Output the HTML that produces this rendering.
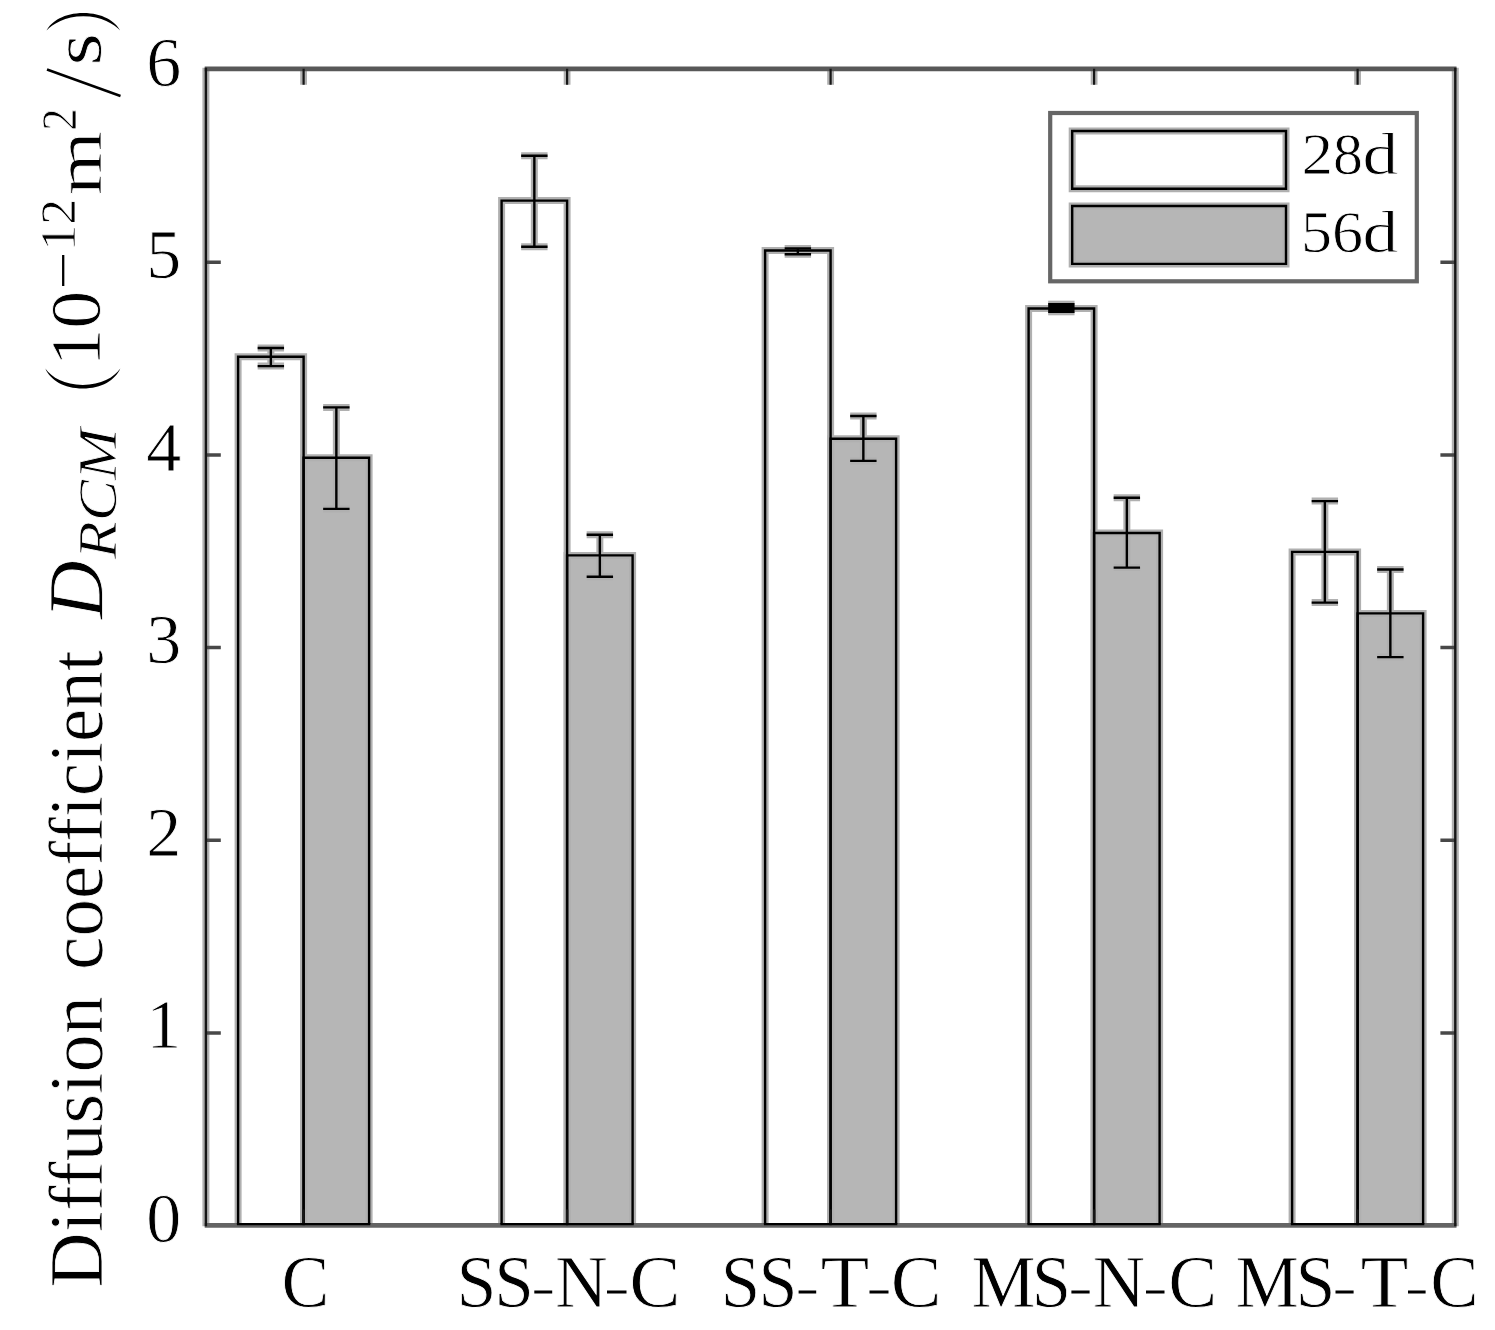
<!DOCTYPE html><html><head><meta charset="utf-8"><style>html,body{margin:0;padding:0;background:#fff;}svg{display:block;}text{stroke:#fff;stroke-width:0.8px;}</style></head><body>
<svg width="1495" height="1330" viewBox="0 0 1495 1330">
<rect x="0" y="0" width="1495" height="1330" fill="#fff"/>
<rect x="238.1" y="356.8" width="65.5" height="868.8" fill="#fff"/>
<rect x="303.6" y="457.8" width="65.5" height="767.8" fill="#b6b6b6"/>
<rect x="501.6" y="200.6" width="65.5" height="1025" fill="#fff"/>
<rect x="567.1" y="555.4" width="65.5" height="670.2" fill="#b6b6b6"/>
<rect x="765.1" y="250.5" width="65.5" height="975.1" fill="#fff"/>
<rect x="830.6" y="438.8" width="65.5" height="786.8" fill="#b6b6b6"/>
<rect x="1028.6" y="308.5" width="65.5" height="917.1" fill="#fff"/>
<rect x="1094.1" y="533" width="65.5" height="692.6" fill="#b6b6b6"/>
<rect x="1292.1" y="551.9" width="65.5" height="673.7" fill="#fff"/>
<rect x="1357.6" y="613.4" width="65.5" height="612.2" fill="#b6b6b6"/>
<g style="mix-blend-mode:darken" fill="none" stroke="#b0b0b0" stroke-linejoin="miter">
<path d="M238.1 1224.1V356.8H303.6V1224.1" stroke-width="7"/>
<path d="M303.6 1224.1V457.8H369.1V1224.1" stroke-width="7"/>
<path d="M501.6 1224.1V200.6H567.1V1224.1" stroke-width="7"/>
<path d="M567.1 1224.1V555.4H632.6V1224.1" stroke-width="7"/>
<path d="M765.1 1224.1V250.5H830.6V1224.1" stroke-width="7"/>
<path d="M830.6 1224.1V438.8H896.1V1224.1" stroke-width="7"/>
<path d="M1028.6 1224.1V308.5H1094.1V1224.1" stroke-width="7"/>
<path d="M1094.1 1224.1V533H1159.6V1224.1" stroke-width="7"/>
<path d="M1292.1 1224.1V551.9H1357.6V1224.1" stroke-width="7"/>
<path d="M1357.6 1224.1V613.4H1423.1V1224.1" stroke-width="7"/>
<path d="M270.85 348V366.1M257.65 348H284.05M257.65 366.1H284.05" stroke-width="7"/>
<path d="M336.35 407.4V508.9M323.15 407.4H349.55M323.15 508.9H349.55" stroke-width="7"/>
<path d="M534.35 155.8V246.8M521.15 155.8H547.55M521.15 246.8H547.55" stroke-width="7"/>
<path d="M599.85 534.8V576.8M586.65 534.8H613.05M586.65 576.8H613.05" stroke-width="7"/>
<path d="M797.85 248.4V254.2M784.65 248.4H811.05M784.65 254.2H811.05" stroke-width="7"/>
<path d="M863.35 416.05V460.9M850.15 416.05H876.55M850.15 460.9H876.55" stroke-width="7"/>
<path d="M1048.15 308H1074.55" stroke-width="14.6"/>
<path d="M1126.85 497.7V567.6M1113.65 497.7H1140.05M1113.65 567.6H1140.05" stroke-width="7"/>
<path d="M1324.85 501.1V602.6M1311.65 501.1H1338.05M1311.65 602.6H1338.05" stroke-width="7"/>
<path d="M1390.35 569.5V657.1M1377.15 569.5H1403.55M1377.15 657.1H1403.55" stroke-width="7"/>
<path d="M205.9 67.8V1226.35M1455.3 67.8V1226.35" stroke-width="7"/>
<path d="M303.6 68.8V84.7M303.6 1225.35V1209.45M567.1 68.8V84.7M567.1 1225.35V1209.45M830.6 68.8V84.7M830.6 1225.35V1209.45M1094.1 68.8V84.7M1094.1 1225.35V1209.45M1357.6 68.8V84.7M1357.6 1225.35V1209.45" stroke-width="6.8"/>
</g>
<path d="M204.7 68.8H1456.5" stroke="#585858" stroke-width="4.7" fill="none"/>
<path d="M204.7 1225.35H1456.5" stroke="#646464" stroke-width="4.9" fill="none"/>
<path d="M205.9 1032.92H220.8M1455.3 1032.92H1440.4M205.9 840.24H220.8M1455.3 840.24H1440.4M205.9 647.56H220.8M1455.3 647.56H1440.4M205.9 454.88H220.8M1455.3 454.88H1440.4M205.9 262.2H220.8M1455.3 262.2H1440.4" stroke="#484848" stroke-width="3.5" fill="none"/>
<g fill="none" stroke-linejoin="miter">
<path d="M238.1 1224.1V356.8H303.6V1224.1" stroke="#000" stroke-width="2.4"/>
<path d="M303.6 1224.1V457.8H369.1V1224.1" stroke="#000" stroke-width="2.4"/>
<path d="M501.6 1224.1V200.6H567.1V1224.1" stroke="#000" stroke-width="2.4"/>
<path d="M567.1 1224.1V555.4H632.6V1224.1" stroke="#000" stroke-width="2.4"/>
<path d="M765.1 1224.1V250.5H830.6V1224.1" stroke="#000" stroke-width="2.4"/>
<path d="M830.6 1224.1V438.8H896.1V1224.1" stroke="#000" stroke-width="2.4"/>
<path d="M1028.6 1224.1V308.5H1094.1V1224.1" stroke="#000" stroke-width="2.4"/>
<path d="M1094.1 1224.1V533H1159.6V1224.1" stroke="#000" stroke-width="2.4"/>
<path d="M1292.1 1224.1V551.9H1357.6V1224.1" stroke="#000" stroke-width="2.4"/>
<path d="M1357.6 1224.1V613.4H1423.1V1224.1" stroke="#000" stroke-width="2.4"/>
<path d="M270.85 348V366.1M257.65 348H284.05M257.65 366.1H284.05" stroke="#000" stroke-width="2.4"/>
<path d="M336.35 407.4V508.9M323.15 407.4H349.55M323.15 508.9H349.55" stroke="#000" stroke-width="2.4"/>
<path d="M534.35 155.8V246.8M521.15 155.8H547.55M521.15 246.8H547.55" stroke="#000" stroke-width="2.4"/>
<path d="M599.85 534.8V576.8M586.65 534.8H613.05M586.65 576.8H613.05" stroke="#000" stroke-width="2.4"/>
<path d="M797.85 248.4V254.2M784.65 248.4H811.05M784.65 254.2H811.05" stroke="#000" stroke-width="2.4"/>
<path d="M863.35 416.05V460.9M850.15 416.05H876.55M850.15 460.9H876.55" stroke="#000" stroke-width="2.4"/>
<path d="M1048.15 308H1074.55" stroke="#000" stroke-width="10"/>
<path d="M1126.85 497.7V567.6M1113.65 497.7H1140.05M1113.65 567.6H1140.05" stroke="#000" stroke-width="2.4"/>
<path d="M1324.85 501.1V602.6M1311.65 501.1H1338.05M1311.65 602.6H1338.05" stroke="#000" stroke-width="2.4"/>
<path d="M1390.35 569.5V657.1M1377.15 569.5H1403.55M1377.15 657.1H1403.55" stroke="#000" stroke-width="2.4"/>
<path d="M205.9 67.8V1226.35M1455.3 67.8V1226.35" stroke="#161616" stroke-width="2.4"/>
<path d="M303.6 68.8V84.7M303.6 1225.35V1209.45M567.1 68.8V84.7M567.1 1225.35V1209.45M830.6 68.8V84.7M830.6 1225.35V1209.45M1094.1 68.8V84.7M1094.1 1225.35V1209.45M1357.6 68.8V84.7M1357.6 1225.35V1209.45" stroke="#161616" stroke-width="2.2"/>
</g>
<path d="M236.9 1224.1H304.8M302.4 1224.1H370.3M500.4 1224.1H568.3M565.9 1224.1H633.8M763.9 1224.1H831.8M829.4 1224.1H897.3M1027.4 1224.1H1095.3M1092.9 1224.1H1160.8M1290.9 1224.1H1358.8M1356.4 1224.1H1424.3" stroke="#000" stroke-width="2.4" fill="none"/>
<text x="181.2" y="1242" font-family='"Liberation Serif", serif' font-size="70" text-anchor="end" fill="#000">0</text>
<text x="181.2" y="1047.7" font-family='"Liberation Serif", serif' font-size="70" text-anchor="end" fill="#000">1</text>
<text x="181.2" y="855.8" font-family='"Liberation Serif", serif' font-size="70" text-anchor="end" fill="#000">2</text>
<text x="181.2" y="663.2" font-family='"Liberation Serif", serif' font-size="70" text-anchor="end" fill="#000">3</text>
<text x="181.2" y="470.5" font-family='"Liberation Serif", serif' font-size="70" text-anchor="end" fill="#000">4</text>
<text x="181.2" y="277.6" font-family='"Liberation Serif", serif' font-size="70" text-anchor="end" fill="#000">5</text>
<text x="181.2" y="86" font-family='"Liberation Serif", serif' font-size="70" text-anchor="end" fill="#000">6</text>
<rect x="1050.2" y="113" width="366.6" height="168.3" fill="#fff" stroke="#666" stroke-width="4.2"/>
<rect x="1072.2" y="131" width="213.8" height="57.8" fill="#fff"/>
<rect x="1072.2" y="206" width="213.8" height="57.9" fill="#b6b6b6"/>
<path d="M1072.2 131H1286V188.8H1072.2ZM1072.2 206H1286V263.9H1072.2Z" fill="none" stroke="#b0b0b0" stroke-width="7" style="mix-blend-mode:darken"/>
<path d="M1072.2 131H1286V188.8H1072.2ZM1072.2 206H1286V263.9H1072.2Z" fill="none" stroke="#000" stroke-width="2.4"/>
<text x="281.46" y="1306.8" font-family='"Liberation Serif", serif' font-size="73" textLength="47.78" lengthAdjust="spacingAndGlyphs" fill="#000">C</text>
<text x="456.48" y="1306.8" font-family='"Liberation Serif", serif' font-size="73" textLength="39.95" lengthAdjust="spacingAndGlyphs" fill="#000">S</text>
<text x="494.13" y="1306.8" font-family='"Liberation Serif", serif' font-size="73" textLength="39.56" lengthAdjust="spacingAndGlyphs" fill="#000">S</text>
<text x="554.9" y="1306.8" font-family='"Liberation Serif", serif' font-size="73" textLength="52.72" lengthAdjust="spacingAndGlyphs" fill="#000">N</text>
<text x="629.24" y="1306.8" font-family='"Liberation Serif", serif' font-size="73" textLength="51.25" lengthAdjust="spacingAndGlyphs" fill="#000">C</text>
<text x="720.75" y="1306.8" font-family='"Liberation Serif", serif' font-size="73" textLength="39.43" lengthAdjust="spacingAndGlyphs" fill="#000">S</text>
<text x="758.51" y="1306.8" font-family='"Liberation Serif", serif' font-size="73" textLength="38.91" lengthAdjust="spacingAndGlyphs" fill="#000">S</text>
<text x="820.4" y="1306.8" font-family='"Liberation Serif", serif' font-size="73" textLength="48.84" lengthAdjust="spacingAndGlyphs" fill="#000">T</text>
<text x="890.87" y="1306.8" font-family='"Liberation Serif", serif' font-size="73" textLength="50.79" lengthAdjust="spacingAndGlyphs" fill="#000">C</text>
<text x="971.32" y="1306.8" font-family='"Liberation Serif", serif' font-size="73" textLength="64.28" lengthAdjust="spacingAndGlyphs" fill="#000">M</text>
<text x="1031.86" y="1306.8" font-family='"Liberation Serif", serif' font-size="73" textLength="39.3" lengthAdjust="spacingAndGlyphs" fill="#000">S</text>
<text x="1092.81" y="1306.8" font-family='"Liberation Serif", serif' font-size="73" textLength="52.4" lengthAdjust="spacingAndGlyphs" fill="#000">N</text>
<text x="1168.29" y="1306.8" font-family='"Liberation Serif", serif' font-size="73" textLength="48.94" lengthAdjust="spacingAndGlyphs" fill="#000">C</text>
<text x="1235.45" y="1306.8" font-family='"Liberation Serif", serif' font-size="73" textLength="63.43" lengthAdjust="spacingAndGlyphs" fill="#000">M</text>
<text x="1295.48" y="1306.8" font-family='"Liberation Serif", serif' font-size="73" textLength="39.95" lengthAdjust="spacingAndGlyphs" fill="#000">S</text>
<text x="1360.42" y="1306.8" font-family='"Liberation Serif", serif' font-size="73" textLength="47.99" lengthAdjust="spacingAndGlyphs" fill="#000">T</text>
<text x="1430.32" y="1306.8" font-family='"Liberation Serif", serif' font-size="73" textLength="48.36" lengthAdjust="spacingAndGlyphs" fill="#000">C</text>
<text x="1301.54" y="174" font-family='"Liberation Serif", serif' font-size="60" textLength="31.62" lengthAdjust="spacingAndGlyphs" fill="#000">2</text>
<text x="1333.11" y="174" font-family='"Liberation Serif", serif' font-size="60" textLength="29.88" lengthAdjust="spacingAndGlyphs" fill="#000">8</text>
<text x="1362.62" y="174" font-family='"Liberation Serif", serif' font-size="60" textLength="35.67" lengthAdjust="spacingAndGlyphs" fill="#000">d</text>
<text x="1301.07" y="251.5" font-family='"Liberation Serif", serif' font-size="60" textLength="31" lengthAdjust="spacingAndGlyphs" fill="#000">5</text>
<text x="1331.99" y="251.5" font-family='"Liberation Serif", serif' font-size="60" textLength="31.08" lengthAdjust="spacingAndGlyphs" fill="#000">6</text>
<text x="1362.62" y="251.5" font-family='"Liberation Serif", serif' font-size="60" textLength="35.67" lengthAdjust="spacingAndGlyphs" fill="#000">d</text>
<rect x="534.3" y="1290.5" width="17.9" height="3" fill="#000"/>
<rect x="607" y="1290.5" width="19.5" height="3" fill="#000"/>
<rect x="798.6" y="1290.5" width="17.6" height="3" fill="#000"/>
<rect x="869.5" y="1290.5" width="19" height="3" fill="#000"/>
<rect x="1071.4" y="1290.5" width="18.2" height="3" fill="#000"/>
<rect x="1146" y="1290.5" width="18.5" height="3" fill="#000"/>
<rect x="1335.5" y="1290.5" width="18.1" height="3" fill="#000"/>
<rect x="1408" y="1290.5" width="17.6" height="3" fill="#000"/>
<text transform="rotate(-90)" x="-1287.51" y="102" font-family='"Liberation Serif", serif' font-size="76" textLength="291.45" lengthAdjust="spacingAndGlyphs" fill="#000">Diffusion</text>
<text transform="rotate(-90)" x="-969.96" y="102" font-family='"Liberation Serif", serif' font-size="76" textLength="319.69" lengthAdjust="spacingAndGlyphs" fill="#000">coefficient</text>
<text transform="rotate(-90)" x="-618.93" y="102.2" font-family='"Liberation Serif", serif' font-size="78.89" font-style="italic" textLength="58.58" lengthAdjust="spacingAndGlyphs" fill="#000">D</text>
<text transform="rotate(-90)" x="-559" y="115.7" font-family='"Liberation Serif", serif' font-size="55.8" font-style="italic" textLength="130.71" lengthAdjust="spacingAndGlyphs" fill="#000">RCM</text>
<text transform="rotate(-90)" x="-366.59" y="100.35" font-family='"Liberation Serif", serif' font-size="72.57" textLength="75.88" lengthAdjust="spacingAndGlyphs" fill="#000">10</text>
<text transform="rotate(-90)" x="-250.7" y="75.1" font-family='"Liberation Serif", serif' font-size="50.1" textLength="51.89" lengthAdjust="spacingAndGlyphs" fill="#000">12</text>
<text transform="rotate(-90)" x="-195.38" y="100.7" font-family='"Liberation Serif", serif' font-size="65.23" textLength="64.3" lengthAdjust="spacingAndGlyphs" fill="#000">m</text>
<text transform="rotate(-90)" x="-130.86" y="75.5" font-family='"Liberation Serif", serif' font-size="50.7" textLength="22.46" lengthAdjust="spacingAndGlyphs" fill="#000">2</text>
<text transform="rotate(-90)" x="-65.81" y="101.09" font-family='"Liberation Serif", serif' font-size="69.22" textLength="32.66" lengthAdjust="spacingAndGlyphs" fill="#000">s</text>
<path d="M45.3 368.6C50.5 380.3 64 388.6 82.8 388.6C101.6 388.6 115.1 380.3 120.3 368.6C114 377.6 101 385 82.8 385C64.6 385 51.6 377.6 45.3 368.6Z" fill="#000"/>
<path d="M46.5 30.6C51.2 21.2 64.5 12.9 83.35 12.9C102.2 12.9 115.5 21.2 120.2 30.6C114 24 101.5 16.3 83.35 16.3C65.2 16.3 52.7 24 46.5 30.6Z" fill="#000"/>
<path d="M63.2 255V286" stroke="#000" stroke-width="2.3" fill="none"/>
<path d="M47 69.5L120.5 96" stroke="#000" stroke-width="2.4" fill="none"/>
</svg></body></html>
